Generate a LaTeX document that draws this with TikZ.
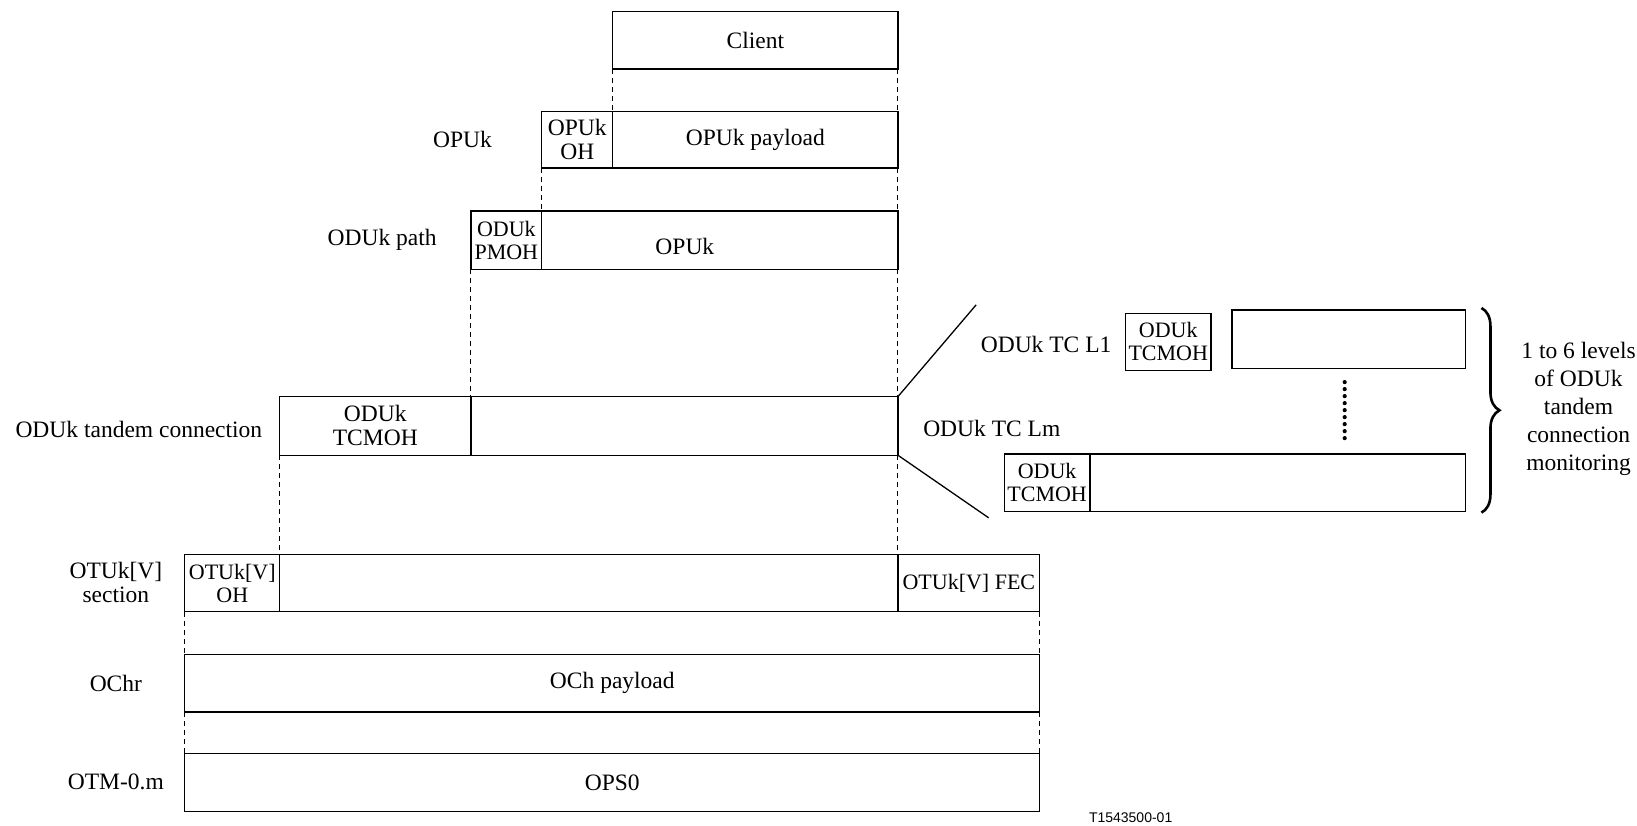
\documentclass[tikz,border=0pt]{standalone}
\usepackage{fontspec}
\setmainfont{Liberation Serif}
\newfontfamily\arialfont{Liberation Sans}
\usetikzlibrary{fit,decorations.pathreplacing}
\newcommand\mainfs{\fontsize{23.5}{24}\selectfont}
\newcommand\smallfs{\fontsize{22}{23}\selectfont}
\begin{document}
\begin{tikzpicture}[x=1.044pt,y=-1.044pt,
  box/.style={draw, line width=1.3pt, inner sep=0pt, outer sep=0pt},
  lbl/.style={inner sep=0pt, align=center, font=\mainfs},
  slbl/.style={inner sep=0pt, align=center, font=\smallfs},
  conn/.style={line width=1pt, dash pattern=on 5pt off 4pt},
  slant/.style={line width=1.3pt}]
\useasboundingbox (0,0) rectangle (1568,791);
% Client
\node[box, fit={(587,11)(860,66)}, label={[lbl]center:Client}] (client) {};
% OPUk
\node[box, fit={(519,107)(587,161)}, label={[lbl]center:{OPUk\\OH}}] (opukoh) {};
\node[box, fit={(587,107)(860,161)}, label={[lbl]center:OPUk payload}] (opukpl) {};
\node[lbl] (opuklbl) at (443,134) {OPUk};
% ODUk path
\node[box, fit={(451,202)(519,258)}, label={[slbl]center:{ODUk\\PMOH}}] (pmoh) {};
\node[box, fit={(519,202)(860,258)}] (pathpl) {};
\node[lbl] (pathtxt) at (656,236) {OPUk};
\node[lbl] (pathlbl) at (366,230) {ODUk path};
% tandem
\node[box, fit={(268,380)(451,436)}, label={[lbl]center:{ODUk\\TCMOH}}] (tcmoh) {};
\node[box, fit={(451,380)(860,436)}] (tcpl) {};
\node[lbl] (tclbl) at (133,411) {ODUk tandem connection};
% OTUk
\node[box, fit={(177,531)(268,586)}, label={[slbl]center:{OTUk[V]\\OH}}] (otuoh) {};
\node[box, fit={(268,531)(860,586)}] (otupl) {};
\node[box, fit={(860,531)(996,586)}, label={[slbl]center:{OTUk[V] FEC}}] (fec) {};
\node[lbl] (otulbl) at (111,558) {OTUk[V]\\section};
% OCh
\node[box, fit={(177,627)(996,682)}, label={[lbl]center:OCh payload}] (och) {};
\node[lbl] (ochlbl) at (111,655) {OChr};
% OTM
\node[box, fit={(177,722)(996,777)}, label={[lbl]center:OPS0}] (ops) {};
\node[lbl] (otmlbl) at (111,749) {OTM-0.m};
% dashed connectors
\draw[conn] (client.south west) -- (opukpl.north west);
\draw[conn] (client.south east) -- (opukpl.north east);
\draw[conn] (opukoh.south west) -- (pathpl.north west);
\draw[conn] (opukpl.south east) -- (pathpl.north east);
\draw[conn] (pmoh.south west) -- (tcpl.north west);
\draw[conn] (pathpl.south east) -- (tcpl.north east);
\draw[conn] (tcmoh.south west) -- (otupl.north west);
\draw[conn] (tcpl.south east) -- (otupl.north east);
\draw[conn] (otuoh.south west) -- (och.north west);
\draw[conn] (fec.south east) -- (och.north east);
\draw[conn] (och.south west) -- (ops.north west);
\draw[conn] (och.south east) -- (ops.north east);
% right side
\coordinate (up) at (935,292);
\coordinate (dn) at (947,496);
\draw[slant] (tcpl.north east) -- (up);
\draw[slant] (tcpl.south east) -- (dn);
\node[box, fit={(1078,300)(1160,355)}, label={[slbl]center:{ODUk\\TCMOH}}] (l1oh) {};
\node[box, fit={(1180,297)(1404,353)}] (l1pl) {};
\node[lbl] (l1lbl) at (1002,330) {ODUk TC L1};
\node[box, fit={(962,435)(1044,490)}, label={[slbl]center:{ODUk\\TCMOH}}] (lmoh) {};
\node[box, fit={(1044,435)(1404,490)}] (lmpl) {};
\node[lbl] (lmlbl) at (950,410) {ODUk TC Lm};
\coordinate (d1) at (1288,366);
\coordinate (d2) at (1288,422);
\draw[line width=4.2pt, dash pattern=on 0pt off 7pt, line cap=round] (d1) -- (d2);
\coordinate (b1) at (1419,295);
\coordinate (b2) at (1419,491);
\draw[line width=2.6pt, decorate, decoration={brace, amplitude=18pt}] (b1) -- (b2);
\node[lbl, font=\fontsize{23.5}{28}\selectfont] (levels) at (1512,392) {1 to 6 levels\\of ODUk\\tandem\\connection\\monitoring};
\node[inner sep=0pt, font=\arialfont\fontsize{14}{16}\selectfont] (code) at (1083,783) {T1543500-01};
\end{tikzpicture}
\end{document}
